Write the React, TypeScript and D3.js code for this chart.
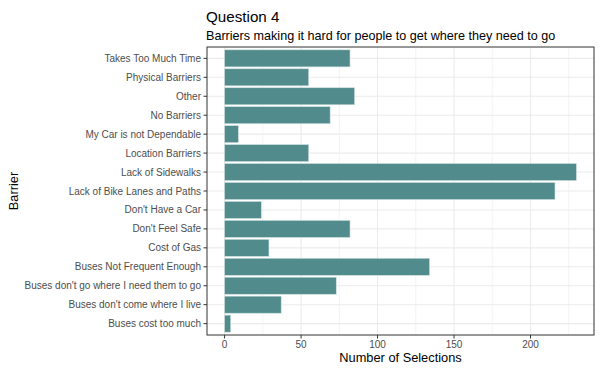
import React from 'react';
import * as d3 from 'd3';

const width = 600;
const height = 368;

// categories top -> bottom as shown
const barriers = [
  'Takes Too Much Time',
  'Physical Barriers',
  'Other',
  'No Barriers',
  'My Car is not Dependable',
  'Location Barriers',
  'Lack of Sidewalks',
  'Lack of Bike Lanes and Paths',
  "Don't Have a Car",
  "Don't Feel Safe",
  'Cost of Gas',
  'Buses Not Frequent Enough',
  "Buses don't go where I need them to go",
  "Buses don't come where I live",
  'Buses cost too much',
];
const selections = [82, 55, 85, 69, 9, 55, 230, 216, 24, 82, 29, 134, 73, 37, 4];
const xTicks = [0, 50, 100, 150, 200];
const xMinor = [25, 75, 125, 175, 225];

const font = '"Liberation Sans", Arial, Helvetica, sans-serif';
const margin = { left: 207, right: 6, top: 47, bottom: 33 };

export default function App() {
  const x0 = margin.left;
  const x1 = width - margin.right;
  const y0 = margin.top;
  const y1 = height - margin.bottom;

  const maxV = d3.max(selections) as number;
  const pad = maxV * 0.05;
  const x = d3.scaleLinear().domain([-pad, maxV + pad]).range([x0, x1]);

  // discrete axis with 0.6 expansion each side
  const n = barriers.length;
  const step = (y1 - y0) / (n - 1 + 1.2);
  const yc = (i: number) => y0 + (0.6 + i) * step;
  const barH = step * 0.9;

  return (
    <svg width={width} height={height} style={{ position: 'absolute', left: 0, top: 0, background: '#fff' }}>
      <rect x={0} y={0} width={width} height={height} fill="#fff" />
      <text x={206} y={22} fontFamily={font} fontSize={15.2} fill="#000">Question 4</text>
      <text x={206} y={40} fontFamily={font} fontSize={12.6} fill="#000">
        Barriers making it hard for people to get where they need to go
      </text>

      {/* grid */}
      {xMinor.map((t) => (
        <line key={'mn' + t} x1={x(t)} x2={x(t)} y1={y0} y2={y1} stroke="#ebebeb" strokeWidth={0.6} />
      ))}
      {xTicks.map((t) => (
        <line key={'mj' + t} x1={x(t)} x2={x(t)} y1={y0} y2={y1} stroke="#ebebeb" strokeWidth={1.1} />
      ))}
      {barriers.map((b, i) => (
        <line key={'hg' + b} x1={x0} x2={x1} y1={yc(i)} y2={yc(i)} stroke="#ebebeb" strokeWidth={1.1} />
      ))}

      {/* bars */}
      {selections.map((v, i) => (
        <rect
          key={'bar' + i}
          x={x(0)}
          y={yc(i) - barH / 2}
          width={x(v) - x(0)}
          height={barH}
          fill="#528b8b"
          stroke="#cfe0e0"
          strokeWidth={0.6}
        />
      ))}

      <rect x={x0} y={y0} width={x1 - x0} height={y1 - y0} fill="none" stroke="#333" strokeWidth={1} />

      {/* y axis */}
      {barriers.map((b, i) => (
        <g key={'yl' + b}>
          <line x1={x0 - 3.5} x2={x0} y1={yc(i)} y2={yc(i)} stroke="#333" strokeWidth={1} />
          <text x={x0 - 6} y={yc(i)} dy="0.35em" textAnchor="end" fontFamily={font} fontSize={10} fill="#4d4d4d">
            {b}
          </text>
        </g>
      ))}

      {/* x axis */}
      {xTicks.map((t) => (
        <g key={'xl' + t}>
          <line x1={x(t)} x2={x(t)} y1={y1} y2={y1 + 3.5} stroke="#333" strokeWidth={1} />
          <text x={x(t)} y={y1 + 13} textAnchor="middle" fontFamily={font} fontSize={10} fill="#4d4d4d">
            {t}
          </text>
        </g>
      ))}

      <text x={(x0 + x1) / 2} y={362} textAnchor="middle" fontFamily={font} fontSize={12.8} fill="#000">
        Number of Selections
      </text>
      <text
        transform={`translate(18,${(y0 + y1) / 2}) rotate(-90)`}
        textAnchor="middle"
        fontFamily={font}
        fontSize={12.8}
        fill="#000"
      >
        Barrier
      </text>
    </svg>
  );
}
